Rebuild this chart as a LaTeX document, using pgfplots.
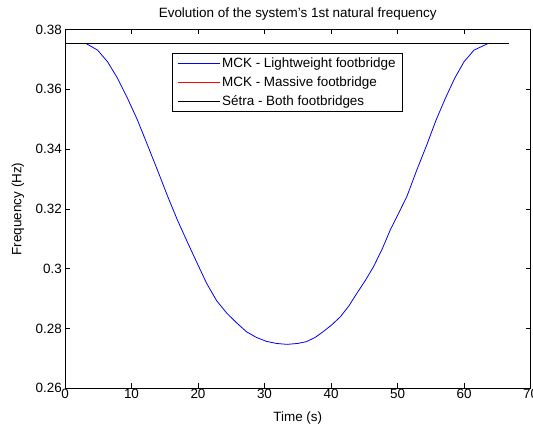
\documentclass[border=0pt]{standalone}
\usepackage{pgfplots}
\pgfplotsset{compat=1.18}
\usepackage{fontspec}
\setmainfont{Liberation Sans}
\definecolor{mblue}{RGB}{0,0,255}
\definecolor{mred}{RGB}{255,0,0}
\begin{document}
\begin{tikzpicture}
\begin{axis}[
  name=ax,
  scale only axis,
  width=465.5bp, height=358.8bp,
  xmin=0, xmax=70, ymin=0.26, ymax=0.38,
  xtick={0,10,20,30,40,50,60,70},
  xticklabels={0,10,20,30,40,50,60,70},
  ytick={0.26,0.28,0.30,0.32,0.34,0.36,0.38},
  yticklabels={0.26,0.28,0.3,0.32,0.34,0.36,0.38},
  xticklabel style={inner ysep=1bp, yshift=0.5bp},
  yticklabel style={inner xsep=3bp},
  tick align=inside,
  major tick length=5bp,
  tick style={black, line width=0.5bp},
  axis line style={black, line width=0.6bp},
  font=\fontsize{13.5}{15}\selectfont,
  title={Evolution of the system's 1st natural frequency},
  title style={at={(axis description cs:0.5,1)}, anchor=center, yshift=9bp},
  xlabel={Time (s)},
  xlabel style={at={(axis description cs:0.5,0)}, anchor=center, yshift=-30bp},
  ylabel={Frequency (Hz)},
  ylabel style={at={(axis description cs:-0.101,0.5)}, anchor=center},
  legend style={at={(axis cs:16.1,0.3721)}, anchor=north west, fill=white, font=\fontsize{13.5}{15}\selectfont, inner xsep=5bp, inner ysep=2.5bp, row sep=3.5bp},
  legend cell align=left,
  legend image code/.code={\draw[#1, line width=0.9bp] (0bp,0bp) -- (42bp,0bp);},
]
\addplot[mblue, line width=0.8bp] coordinates {
(3.1,0.3754)(4.9,0.3731)(6.4,0.3692)(7.9,0.3637)(9.4,0.3570)(10.9,0.3497)(12.4,0.3414)(13.9,0.3330)(15.4,0.3244)(16.9,0.3163)(18.3,0.3094)(19.8,0.3022)(21.3,0.2951)(22.8,0.2893)(24.3,0.2852)(25.8,0.2819)(27.3,0.2789)(28.8,0.2770)(30.3,0.2757)(31.8,0.2750)(33.4,0.2747)(35.0,0.2750)(36.3,0.2756)(37.6,0.2770)(38.8,0.2789)(40.1,0.2812)(41.4,0.2839)(42.7,0.2876)(43.9,0.2918)(45.2,0.2962)(46.4,0.3007)(47.7,0.3066)(48.9,0.3129)(50.2,0.3187)(51.4,0.3241)(52.9,0.3330)(54.4,0.3414)(55.8,0.3497)(57.2,0.3570)(58.6,0.3637)(60.0,0.3692)(61.5,0.3731)(63.7,0.3754)
};
\addlegendentry{MCK - Lightweight footbridge}
\addplot[mred, line width=0.8bp] coordinates {(0,0.3754)(66.8,0.3754)};
\addlegendentry{MCK - Massive footbridge}
\addplot[black, line width=0.8bp] coordinates {(0,0.3754)(66.8,0.3754)};
\addlegendentry{Sétra - Both footbridges}
\end{axis}
\pgfresetboundingbox
\path[use as bounding box] ([xshift=-65bp,yshift=-41.7bp]ax.south west) rectangle ([xshift=2.5bp,yshift=29.5bp]ax.north east);
\end{tikzpicture}
\end{document}
